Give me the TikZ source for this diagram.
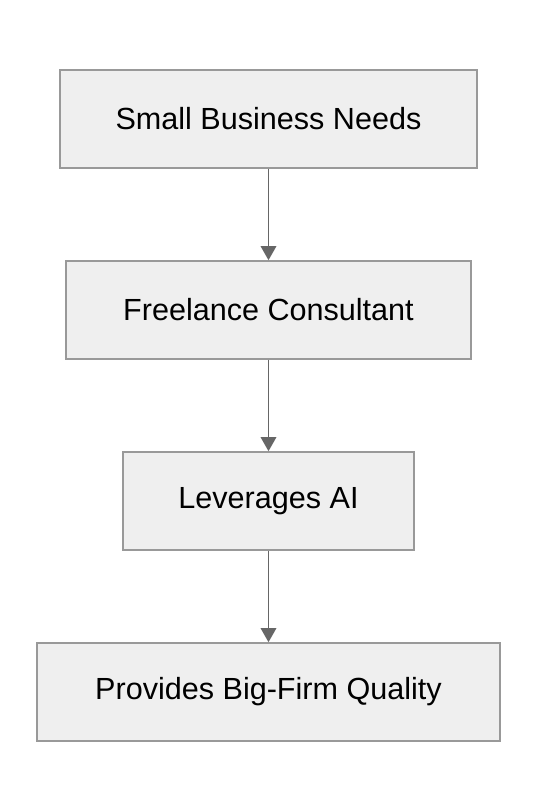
\documentclass[tikz,border=0pt]{standalone}
\usepackage{fontspec}
\setmainfont{Liberation Sans}
\usetikzlibrary{arrows.meta}
\definecolor{boxfill}{HTML}{EFEFEF}
\definecolor{boxline}{HTML}{999999}
\definecolor{arrowcol}{HTML}{666666}
\tikzset{
  stagebox/.style={draw=boxline, fill=boxfill, line width=0.9pt, minimum height=1.96cm, inner sep=0pt, font=\fontsize{17.4}{20}\selectfont},
  flowarrow/.style={-{Triangle[length=8pt,width=8.8pt]}, draw=arrowcol, fill=arrowcol, line width=1pt}
}
\begin{document}
\begin{tikzpicture}[x=0.02cm,y=-0.02cm]
\useasboundingbox (0,0) rectangle (538,812);
\node[stagebox, minimum width=8.34cm] (needs) at (268.5, 119) {Small Business Needs};
\node[stagebox, minimum width=8.1cm] (consultant) at (268.5, 310) {Freelance Consultant};
\node[stagebox, minimum width=5.82cm] (leverage) at (268.5, 501) {Leverages AI};
\node[stagebox, minimum width=9.26cm] (quality) at (268.5, 692) {Provides Big-Firm Quality};

\draw[flowarrow] (needs) -- (consultant);
\draw[flowarrow] (consultant) -- (leverage);
\draw[flowarrow] (leverage) -- (quality);
\end{tikzpicture}
\end{document}
